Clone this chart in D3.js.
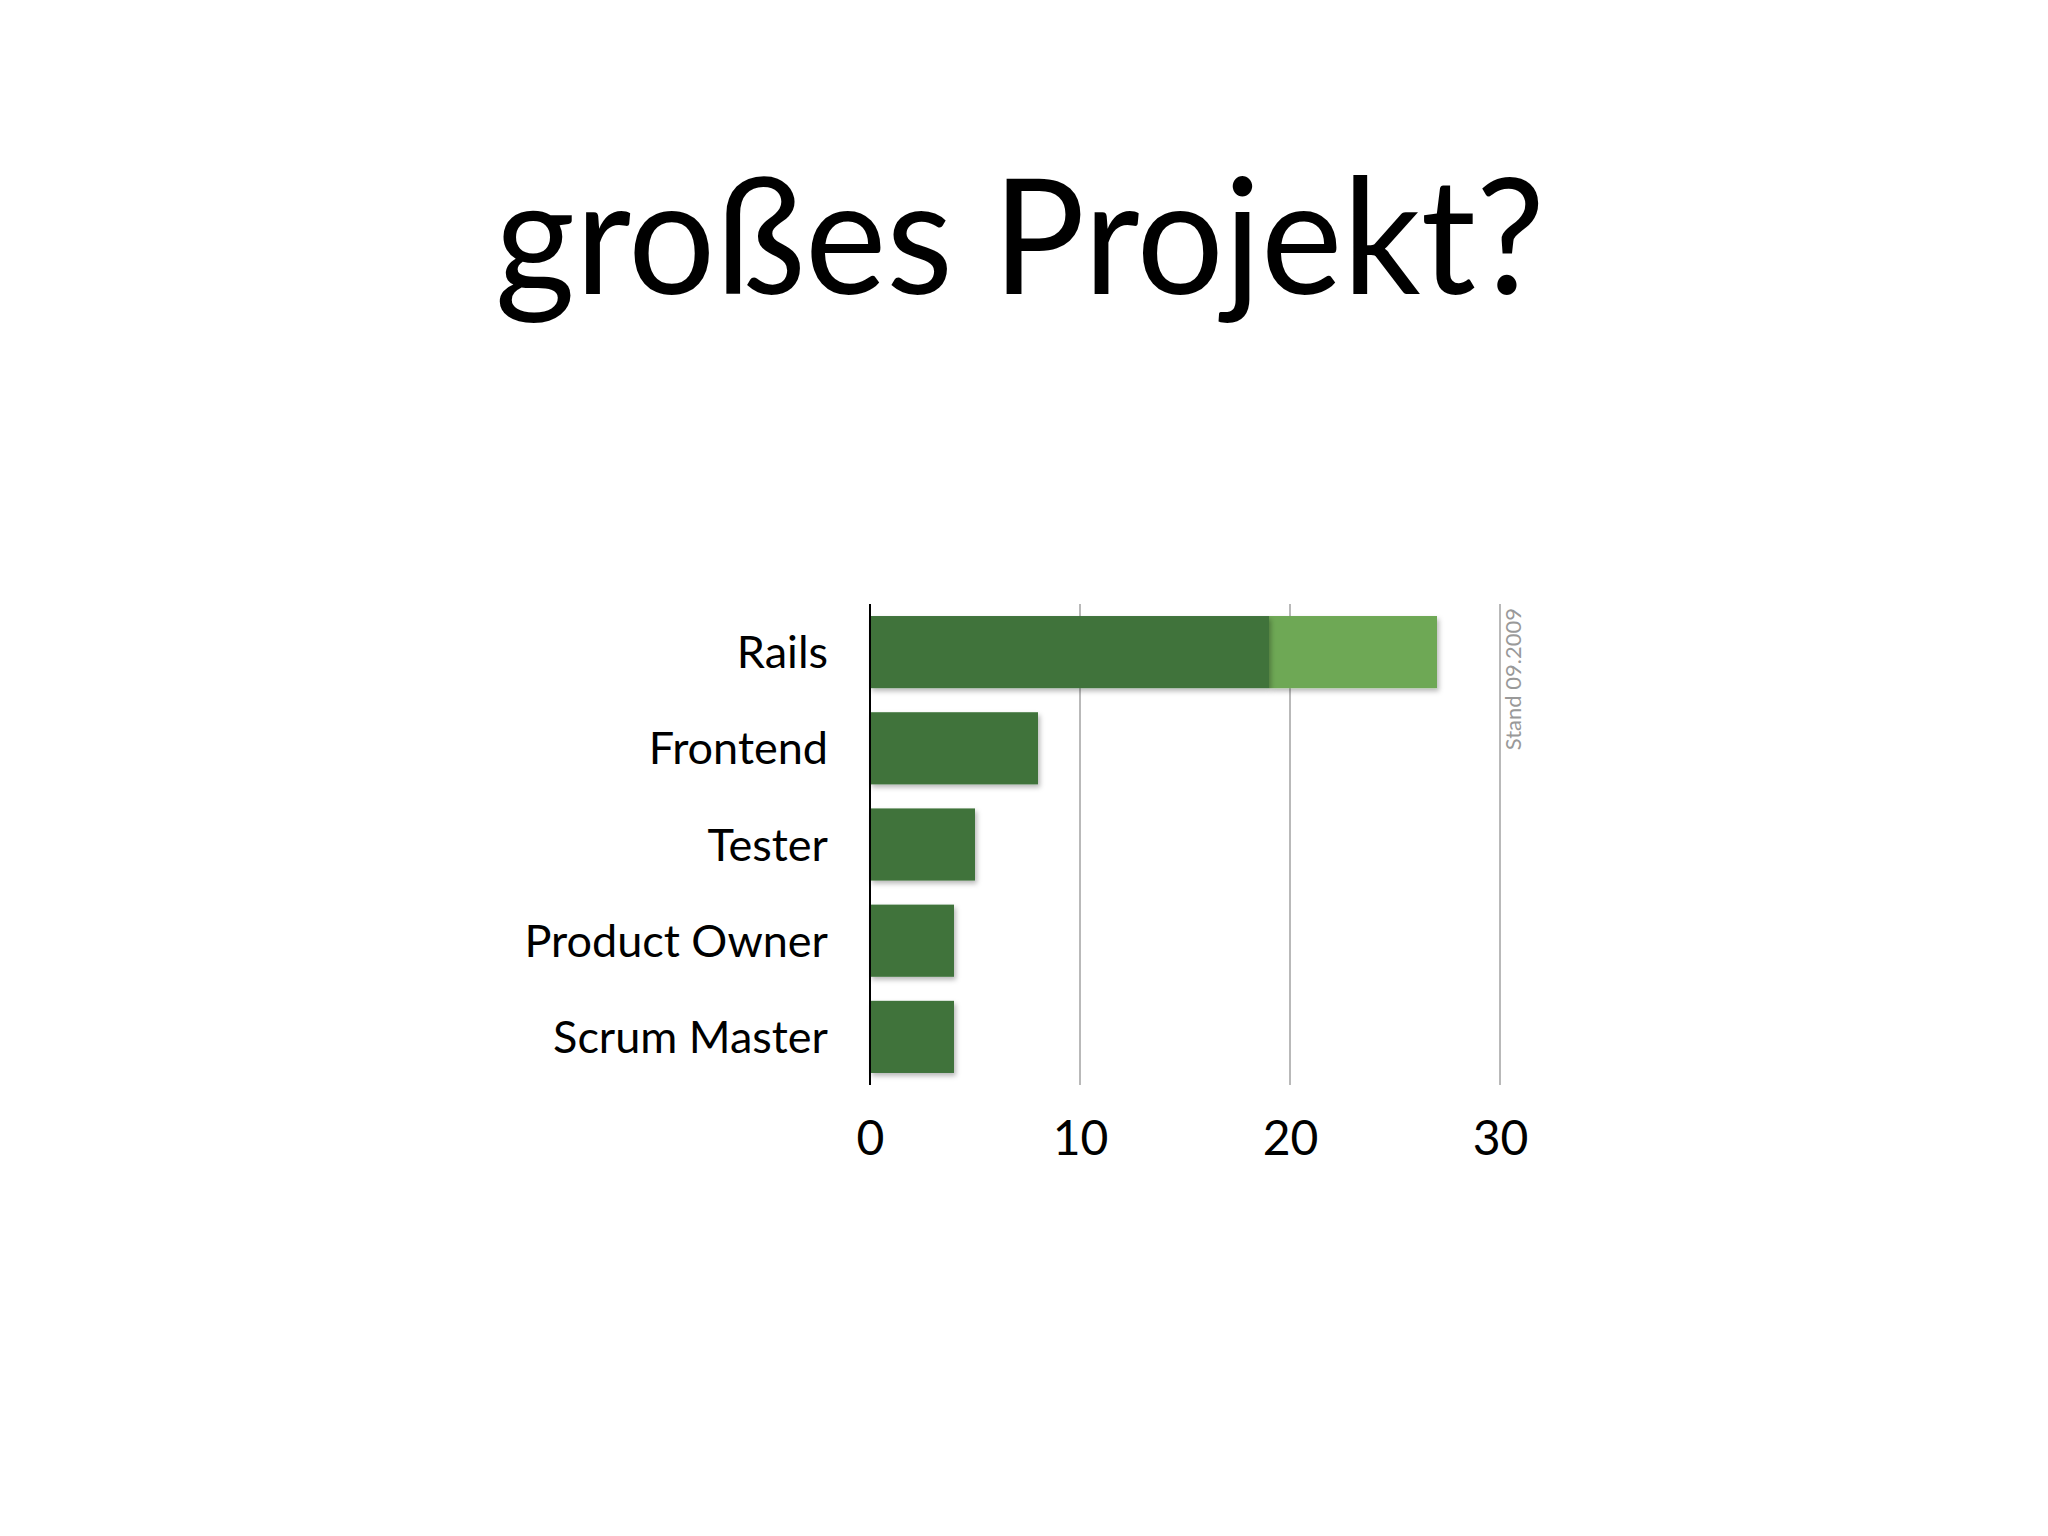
<!DOCTYPE html>
<html>
<head>
<meta charset="utf-8">
<script src="https://cdn.jsdelivr.net/npm/d3@7/dist/d3.min.js"></script>
<style>
  html, body { margin: 0; padding: 0; background: #ffffff; }
  svg { display: block; }
  text { font-family: Lato, "Open Sans", sans-serif; }
</style>
</head>
<body>
<svg id="chart" width="2048" height="1536"></svg>
<script>
const titleText = "großes Projekt?";
const categories = ["Rails", "Frontend", "Tester", "Product Owner", "Scrum Master"];
const currentValues = [19, 8, 5, 4, 4];
const plannedExtra = [8, 0, 0, 0, 0];
const tickValues = [0, 10, 20, 30];
const noteText = "Stand 09.2009";

const svg = d3.select("#chart");

const defs = svg.append("defs");
const f = defs.append("filter").attr("id", "shadow")
  .attr("x", "-10%").attr("y", "-20%").attr("width", "130%").attr("height", "150%");
f.append("feDropShadow").attr("dx", 2).attr("dy", 3).attr("stdDeviation", 2.5)
  .attr("flood-color", "#000").attr("flood-opacity", 0.28);

// Title
svg.append("text")
  .attr("x", 1020).attr("y", 294)
  .attr("text-anchor", "middle")
  .attr("font-size", 162)
  .attr("textLength", 1050)
  .attr("lengthAdjust", "spacingAndGlyphs")
  .attr("fill", "#000")
  .text(titleText);

const x0 = 870, x1 = 1500;
const yTop = 604, yBot = 1085;

const x = d3.scaleLinear().domain([0, 30]).range([x0, x1]);
const y = d3.scaleBand().domain(categories).range([yTop, yBot])
  .paddingInner(0.25).paddingOuter(0.125);

// gridlines
svg.append("g").selectAll("line").data(tickValues.filter(d => d > 0)).join("line")
  .attr("x1", d => x(d)).attr("x2", d => x(d))
  .attr("y1", yTop).attr("y2", yBot)
  .attr("stroke", "#a8a8a8").attr("stroke-width", 1.6);

const rows = categories.map((c, i) => ({ c, cur: currentValues[i], extra: plannedExtra[i] }));

// planned (light) segments
svg.append("g").selectAll("rect").data(rows.filter(d => d.extra > 0)).join("rect")
  .attr("x", d => x(d.cur))
  .attr("y", d => y(d.c))
  .attr("width", d => x(d.cur + d.extra) - x(d.cur))
  .attr("height", y.bandwidth())
  .attr("fill", "#6ea854")
  .attr("filter", "url(#shadow)");

// current (dark) segments
svg.append("g").selectAll("rect").data(rows).join("rect")
  .attr("x", x(0))
  .attr("y", d => y(d.c))
  .attr("width", d => x(d.cur) - x(0))
  .attr("height", y.bandwidth())
  .attr("fill", "#3f733b")
  .attr("filter", "url(#shadow)");

// axis line
svg.append("line")
  .attr("x1", x(0)).attr("x2", x(0))
  .attr("y1", yTop).attr("y2", yBot)
  .attr("stroke", "#000").attr("stroke-width", 2);

// category labels
svg.append("g").selectAll("text").data(categories).join("text")
  .attr("x", 828)
  .attr("y", d => y(d) + y.bandwidth() / 2 + 16)
  .attr("text-anchor", "end")
  .attr("font-size", 45)
  .attr("fill", "#000")
  .text(d => d);

// tick labels via axis
const axis = d3.axisBottom(x).tickValues(tickValues).tickSize(0).tickPadding(0).tickFormat(d3.format("d"));
const ax = svg.append("g").attr("transform", `translate(0,${1155})`).call(axis);
ax.select(".domain").remove();
ax.selectAll("text")
  .attr("dy", 0).attr("y", 0)
  .attr("font-size", 48)
  .attr("font-family", "Lato, 'Open Sans', sans-serif")
  .attr("fill", "#000");

// note
svg.append("text")
  .attr("transform", `translate(${x(30) + 21}, 608) rotate(-90)`)
  .attr("text-anchor", "end")
  .attr("font-size", 22)
  .attr("fill", "#999")
  .text(noteText);
</script>
</body>
</html>
